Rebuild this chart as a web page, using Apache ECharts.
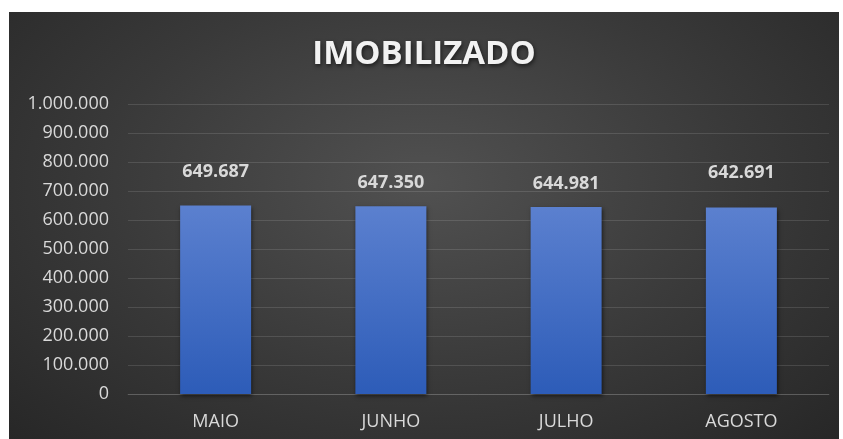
<!DOCTYPE html>
<html>
<head>
<meta charset="utf-8">
<script src="https://cdn.jsdelivr.net/npm/echarts@6/dist/echarts.min.js"></script>
<style>
  html, body { margin: 0; padding: 0; background: #fff; }
  #chart {
    position: absolute;
    left: 9px;
    top: 12px;
    width: 830px;
    height: 427px;
    background: radial-gradient(ellipse farthest-corner at 50% 40%, #515151 0%, #393939 55%, #272727 100%);
  }
</style>
</head>
<body>
<div id="chart"></div>
<script>
// dados do gráfico
const categorias = ['MAIO', 'JUNHO', 'JULHO', 'AGOSTO']
const valores = [649687, 647350, 644981, 642691]
const distRotulo = [25, 14, 14, 26] // rótulos posicionados à mão no original

const fmt = v => String(v).replace(/\B(?=(\d{3})+(?!\d))/g, '.')

const chart = echarts.init(document.getElementById('chart'), null, { renderer: 'canvas' })

chart.setOption({
  backgroundColor: 'transparent',
  animation: false,
  title: {
    text: 'IMOBILIZADO',
    left: 'center',
    top: 21,
    textStyle: {
      fontFamily: 'Open Sans',
      fontWeight: 'bold',
      fontSize: 33,
      color: '#f2f2f2',
      textShadowColor: 'rgba(0,0,0,0.6)',
      textShadowBlur: 4,
      textShadowOffsetX: 1,
      textShadowOffsetY: 2
    }
  },
  grid: {
    left: 119,
    right: 10,
    top: 92,
    bottom: 45,
    containLabel: false
  },
  xAxis: {
    type: 'category',
    data: categorias,
    axisTick: { show: false },
    axisLine: {
      lineStyle: { color: 'rgba(255,255,255,0.12)', width: 1 }
    },
    axisLabel: {
      margin: 19,
      color: '#d9d9d9',
      fontFamily: 'Open Sans',
      fontSize: 18
    }
  },
  yAxis: {
    type: 'value',
    min: 0,
    max: 1000000,
    interval: 100000,
    axisLine: { show: false },
    axisTick: { show: false },
    splitLine: {
      lineStyle: { color: 'rgba(255,255,255,0.12)', width: 1 }
    },
    axisLabel: {
      margin: 19,
      color: '#d9d9d9',
      fontFamily: 'Open Sans',
      fontSize: 18,
      formatter: v => fmt(v)
    }
  },
  series: [
    {
      type: 'bar',
      barWidth: 71,
      data: valores.map((v, i) => ({
        value: v,
        label: { distance: distRotulo[i] }
      })),
      itemStyle: {
        color: new echarts.graphic.LinearGradient(0, 0, 0, 1, [
          { offset: 0, color: '#5b80cf' },
          { offset: 1, color: '#2d5cb8' }
        ]),
        shadowColor: 'rgba(0,0,0,0.55)',
        shadowBlur: 4,
        shadowOffsetX: 1,
        shadowOffsetY: 2
      },
      label: {
        show: true,
        position: 'top',
        color: '#d9d9d9',
        fontFamily: 'Open Sans',
        fontWeight: 'bold',
        fontSize: 18,
        formatter: p => fmt(p.value)
      }
    }
  ]
})
</script>
</body>
</html>
